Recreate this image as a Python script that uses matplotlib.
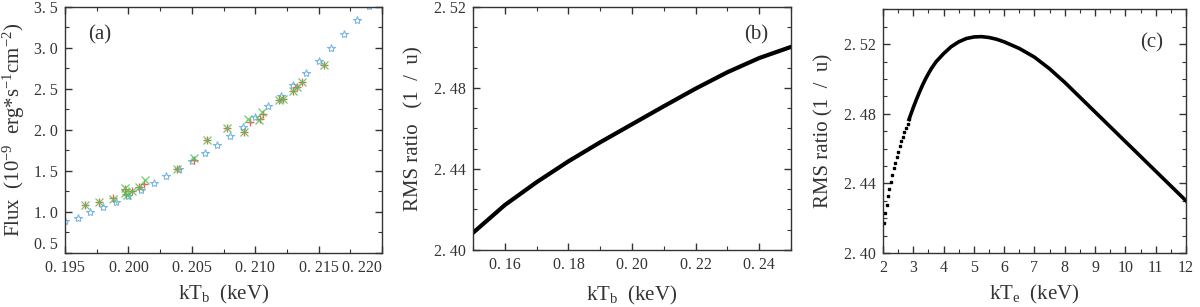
import matplotlib

matplotlib.use("Agg")

import matplotlib.pyplot as plt
from matplotlib.ticker import MultipleLocator


# panel (a): flux vs kTb
star_kt = [0.195, 0.196, 0.197, 0.198, 0.199, 0.200, 0.201, 0.202, 0.203,
           0.204, 0.205, 0.206, 0.207, 0.208, 0.209, 0.210, 0.211, 0.212,
           0.213, 0.214, 0.215, 0.216, 0.217, 0.218, 0.219]
star_flux = [0.89, 0.93, 1.00, 1.06, 1.12, 1.20, 1.27, 1.35, 1.44,
             1.53, 1.62, 1.72, 1.82, 1.93, 2.04, 2.16, 2.29, 2.41,
             2.55, 2.69, 2.84, 3.00, 3.17, 3.34, 3.51]

plus_kt = [0.1966, 0.1977, 0.1988, 0.1997, 0.1998, 0.2003, 0.2008, 0.2012,
           0.2038, 0.2052, 0.2062, 0.2078, 0.2091, 0.2096, 0.2104, 0.2106,
           0.2119, 0.2122, 0.2130, 0.2133, 0.2137, 0.2154]
plus_flux = [1.08, 1.12, 1.17, 1.28, 1.22, 1.25, 1.31, 1.34,
             1.52, 1.64, 1.88, 2.02, 1.98, 2.10, 2.13, 2.19,
             2.36, 2.38, 2.47, 2.53, 2.58, 2.79]

cross_kt = [0.1966, 0.1977, 0.1988, 0.1997, 0.1997, 0.1999, 0.2003, 0.2008,
            0.2013, 0.2038, 0.2052, 0.2062, 0.2078, 0.2091, 0.2094, 0.2103,
            0.2105, 0.2119, 0.2122, 0.2130, 0.2133, 0.2137, 0.2154]
cross_flux = [1.08, 1.12, 1.16, 1.29, 1.23, 1.21, 1.25, 1.31,
              1.39, 1.52, 1.66, 1.88, 2.02, 1.98, 2.14, 2.12,
              2.22, 2.37, 2.38, 2.47, 2.53, 2.58, 2.79]

# panel (b): RMS ratio vs kTb
b_kt = [0.15, 0.16, 0.17, 0.18, 0.19, 0.20, 0.21, 0.22, 0.23, 0.24, 0.25]
b_ratio = [2.4085, 2.4222, 2.4335, 2.4438, 2.4532, 2.4621, 2.4710,
           2.4797, 2.4878, 2.4948, 2.5003]

# panel (c): RMS ratio vs kTe (separate dots at the steep start, then a line)
c_dot_kt = [2.02, 2.07, 2.12, 2.17, 2.21, 2.26, 2.31, 2.36, 2.41, 2.46,
            2.51, 2.56, 2.61, 2.66, 2.71, 2.76, 2.81, 2.86]
c_dot_ratio = [2.4170, 2.4228, 2.4277, 2.4325, 2.4369, 2.4409, 2.4448,
               2.4486, 2.4518, 2.4551, 2.4582, 2.4613, 2.4641, 2.4668,
               2.4693, 2.4718, 2.4743, 2.4767]
c_kt = [2.86, 2.9, 3.0, 3.1, 3.2, 3.3, 3.4, 3.5, 3.6, 3.75, 4.0, 4.25,
        4.5, 4.75, 5.0, 5.25, 5.5, 5.75, 6.0, 6.5, 7.0, 7.5, 8.0, 8.5,
        9.0, 9.5, 10.0, 10.5, 11.0, 11.5, 12.0]
c_ratio = [2.4767, 2.4787, 2.4835, 2.4880, 2.4922, 2.4962, 2.4998, 2.5030,
           2.5060, 2.5098, 2.5145, 2.5185, 2.5213, 2.5232, 2.5241, 2.5243,
           2.5238, 2.5228, 2.5213, 2.5175, 2.5125, 2.5058, 2.4980, 2.4895,
           2.4810, 2.4725, 2.4640, 2.4555, 2.4470, 2.4385, 2.4300]

a_xticks = [0.195, 0.200, 0.205, 0.210, 0.215, 0.220]
a_xlabels = ["0. 195", "0. 200", "0. 205", "0. 210", "0. 215", "0. 220"]
a_yticks = [0.5, 1.0, 1.5, 2.0, 2.5, 3.0, 3.5]
a_ylabels = ["0. 5", "1. 0", "1. 5", "2. 0", "2. 5", "3. 0", "3. 5"]
b_xticks = [0.16, 0.18, 0.20, 0.22, 0.24]
b_xlabels = ["0. 16", "0. 18", "0. 20", "0. 22", "0. 24"]
rms_yticks = [2.40, 2.44, 2.48, 2.52]
rms_ylabels = ["2. 40", "2. 44", "2. 48", "2. 52"]
c_xticks = [2, 3, 4, 5, 6, 7, 8, 9, 10, 11, 12]

plt.rcParams["font.family"] = ["Liberation Serif", "DejaVu Serif"]
plt.rcParams["mathtext.fontset"] = "custom"
plt.rcParams["mathtext.rm"] = "Liberation Serif"
plt.rcParams["mathtext.it"] = "Liberation Serif"
plt.rcParams["lines.solid_joinstyle"] = "round"

TEXT = "#333333"
LABEL_SIZE = 15


def style_axes(ax):
    for spine in ax.spines.values():
        spine.set_linewidth(1.0)
        spine.set_color("#333333")
    ax.tick_params(which="both", direction="in", top=True, right=True,
                   colors="#333333", labelcolor=TEXT, labelsize=11.5, pad=5)
    ax.tick_params(which="major", length=5, width=1.0)
    ax.tick_params(which="minor", length=3, width=0.8)


fig = plt.figure(figsize=(12, 3.07), dpi=100)
ax_a = fig.add_axes([0.0542, 0.1759, 0.2642, 0.8013])
ax_b = fig.add_axes([0.3942, 0.1857, 0.2650, 0.7915])
ax_c = fig.add_axes([0.7358, 0.1762, 0.2525, 0.7935])

# (a)
ax_a.plot(star_kt, star_flux, linestyle="none", marker="*", markersize=6,
          markerfacecolor="none", markeredgecolor="#7ab6e8",
          markeredgewidth=0.8)
ax_a.plot(plus_kt, plus_flux, linestyle="none", marker="+", markersize=6,
          markeredgecolor="#e06a6a", markeredgewidth=1.0)
ax_a.plot(cross_kt, cross_flux, linestyle="none", marker="x", markersize=6,
          markeredgecolor="#4cc84c", markeredgewidth=0.9, alpha=0.85)
ax_a.set_xlim(0.195, 0.220)
ax_a.set_ylim(0.5, 3.5)
ax_a.set_xticks(a_xticks, a_xlabels)
ax_a.set_yticks(a_yticks, a_ylabels)
ax_a.xaxis.set_minor_locator(MultipleLocator(0.0025))
ax_a.yaxis.set_minor_locator(MultipleLocator(0.25))
style_axes(ax_a)
ax_a.get_xticklabels()[-1].set_horizontalalignment("right")
ax_a.get_yticklabels()[0].set_verticalalignment("bottom")
ax_a.set_xlabel(r"kT$_{\rm b}$  (keV)", fontsize=LABEL_SIZE, color=TEXT,
                labelpad=5)
ax_a.set_ylabel(r"Flux  (10$^{-9}$  erg*s$^{-1}$cm$^{-2}$)",
                fontsize=LABEL_SIZE, color=TEXT, labelpad=5)
ax_a.text(0.11, 0.885, "(a)", transform=ax_a.transAxes, fontsize=15,
          color=TEXT, ha="center", va="center")

# (b)
ax_b.plot(b_kt, b_ratio, color="black", linewidth=3)
ax_b.set_xlim(0.15, 0.25)
ax_b.set_ylim(2.40, 2.52)
ax_b.set_xticks(b_xticks, b_xlabels)
ax_b.set_yticks(rms_yticks, rms_ylabels)
ax_b.xaxis.set_minor_locator(MultipleLocator(0.01))
ax_b.yaxis.set_minor_locator(MultipleLocator(0.01))
style_axes(ax_b)
ax_b.set_xlabel(r"kT$_{\rm b}$  (keV)", fontsize=LABEL_SIZE, color=TEXT,
                labelpad=8)
ax_b.set_ylabel("RMS ratio   (1  /  u)", fontsize=LABEL_SIZE, color=TEXT,
                labelpad=8)
ax_b.text(0.89, 0.885, "(b)", transform=ax_b.transAxes, fontsize=15,
          color=TEXT, ha="center", va="center")

# (c)
ax_c.plot(c_dot_kt, c_dot_ratio, linestyle="none", marker="s",
          markersize=1.9, color="black")
ax_c.plot(c_kt, c_ratio, color="black", linewidth=2.6)
ax_c.set_xlim(2, 12)
ax_c.set_ylim(2.40, 2.54)
ax_c.set_xticks(c_xticks)
ax_c.set_yticks(rms_yticks, rms_ylabels)
ax_c.xaxis.set_minor_locator(MultipleLocator(0.5))
ax_c.yaxis.set_minor_locator(MultipleLocator(0.01))
style_axes(ax_c)
ax_c.set_xlabel(r"kT$_{\rm e}$  (keV)", fontsize=LABEL_SIZE, color=TEXT,
                labelpad=5)
ax_c.set_ylabel("RMS ratio (1  /  u)", fontsize=LABEL_SIZE, color=TEXT,
                labelpad=8)
ax_c.text(0.888, 0.862, "(c)", transform=ax_c.transAxes, fontsize=15,
          color=TEXT, ha="center", va="center")

fig.savefig("out.png", dpi=100)
plt.close(fig)
